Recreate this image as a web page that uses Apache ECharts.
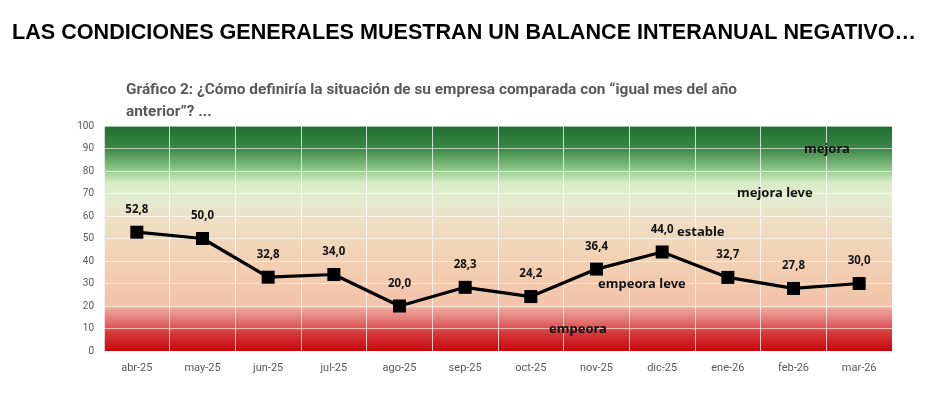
<!DOCTYPE html>
<html>
<head>
<meta charset="utf-8">
<script src="https://cdn.jsdelivr.net/npm/echarts@6/dist/echarts.min.js"></script>
<style>
  html, body { margin: 0; padding: 0; background: #fff; }
  #chart { width: 938px; height: 397px; }
</style>
</head>
<body>
<div id="chart"></div>
<script>
// datos
const months = ["abr-25", "may-25", "jun-25", "jul-25", "ago-25", "sep-25",
  "oct-25", "nov-25", "dic-25", "ene-26", "feb-26", "mar-26"];
const balance = [52.8, 50.0, 32.8, 34.0, 20.0, 28.3, 24.2, 36.4, 44.0, 32.7, 27.8, 30.0];
const yTicks = [0, 10, 20, 30, 40, 50, 60, 70, 80, 90, 100];

const chart = echarts.init(document.getElementById("chart"));

// fondo degradado verde -> beige -> rojo
const bg = new echarts.graphic.LinearGradient(0, 0, 0, 1, [
  { offset: 0, color: "#206d30" },
  { offset: 0.1, color: "#3a8746" },
  { offset: 0.2, color: "#95cb8e" },
  { offset: 0.25, color: "#d6edc6" },
  { offset: 0.32, color: "#e3ecd0" },
  { offset: 0.42, color: "#eedfc3" },
  { offset: 0.6, color: "#f2d0b4" },
  { offset: 0.8, color: "#f3c3a8" },
  { offset: 0.815, color: "#eda198" },
  { offset: 0.86, color: "#e47a78" },
  { offset: 0.92, color: "#d73a3a" },
  { offset: 1, color: "#c4060e" },
]);

const labelFont = "'Noto Sans', sans-serif";
const bandFont = "bold 13px 'Noto Sans'";

const option = {
  backgroundColor: "#fff",
  title: [
    {
      text: "LAS CONDICIONES GENERALES MUESTRAN UN BALANCE INTERANUAL NEGATIVO…",
      left: 7,
      top: 17,
      textStyle: {
        fontFamily: "'Liberation Sans', Arial, sans-serif",
        fontWeight: "bold",
        fontSize: 21.6,
        color: "#000",
      },
    },
    {
      text: "Gráfico 2: ¿Cómo definiría la situación de su empresa comparada con “igual mes del año\nanterior”? ...",
      left: 121,
      top: 74,
      textStyle: {
        fontFamily: "Roboto, sans-serif",
        fontWeight: "bold",
        fontSize: 15.4,
        lineHeight: 22,
        color: "#595959",
      },
    },
  ],
  grid: {
    left: 104,
    right: 46,
    top: 126,
    bottom: 46,
    show: true,
    backgroundColor: bg,
    borderWidth: 0,
  },
  xAxis: {
    type: "category",
    data: months,
    boundaryGap: true,
    axisLine: { show: false },
    axisTick: { show: false },
    axisLabel: {
      color: "#595959",
      fontSize: 11,
      fontFamily: "Roboto, sans-serif",
      margin: 12,
    },
    splitLine: {
      show: true,
      lineStyle: { color: "rgba(255,255,255,0.75)", width: 1 },
    },
  },
  yAxis: {
    type: "value",
    min: yTicks[0],
    max: yTicks[yTicks.length - 1],
    interval: 10,
    axisLine: { show: false },
    axisTick: { show: false },
    axisLabel: {
      color: "#595959",
      fontSize: 10,
      fontFamily: "Roboto, sans-serif",
      margin: 10,
    },
    splitLine: {
      show: true,
      lineStyle: { color: "rgba(255,255,255,0.6)", width: 1 },
    },
  },
  series: [
    {
      name: "balance",
      type: "line",
      data: balance,
      symbol: "rect",
      symbolSize: 13,
      lineStyle: { color: "#000", width: 3.2 },
      itemStyle: { color: "#000" },
      label: {
        show: true,
        position: "top",
        distance: 10,
        color: "#111",
        fontWeight: "bold",
        fontSize: 11.5,
        fontFamily: labelFont,
        formatter: (p) => p.value.toFixed(1).replace(".", ","),
      },
      z: 5,
    },
  ],
  graphic: [
    { type: "text", z: 100, left: 804, top: 143, style: { text: "mejora", font: bandFont, fill: "#111" } },
    { type: "text", z: 100, left: 737, top: 187, style: { text: "mejora leve", font: bandFont, fill: "#111" } },
    { type: "text", z: 100, left: 677, top: 226, style: { text: "estable", font: bandFont, fill: "#111" } },
    { type: "text", z: 100, left: 598, top: 278, style: { text: "empeora leve", font: bandFont, fill: "#111" } },
    { type: "text", z: 100, left: 549, top: 323, style: { text: "empeora", font: bandFont, fill: "#111" } },
  ],
};

chart.setOption(option);
</script>
</body>
</html>
